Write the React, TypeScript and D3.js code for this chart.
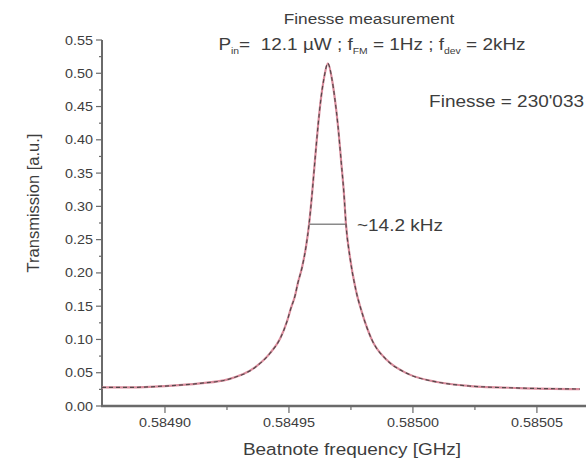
import React from "react";
import * as d3 from "d3";

const freqs = [
  0.5848746, 0.5848859, 0.5849000, 0.5849141, 0.5849254, 0.5849363, 0.5849423,
  0.5849464, 0.5849492, 0.5849508, 0.5849524, 0.5849536, 0.5849552, 0.5849569,
  0.5849581, 0.5849593, 0.5849605, 0.5849617, 0.5849629, 0.5849641, 0.5849657,
  0.5849673, 0.5849685, 0.5849698, 0.5849710, 0.5849722, 0.5849730, 0.5849746,
  0.5849770, 0.5849794, 0.5849835, 0.5849895, 0.5849976, 0.5850097, 0.5850230,
  0.5850431, 0.5850673,
];
const transmission = [
  0.028, 0.028, 0.030, 0.034, 0.040, 0.058, 0.079,
  0.101, 0.127, 0.147, 0.165, 0.185, 0.207, 0.240,
  0.273, 0.318, 0.370, 0.420, 0.462, 0.492, 0.515,
  0.492, 0.462, 0.420, 0.370, 0.318, 0.273, 0.2235,
  0.174, 0.141, 0.099, 0.069, 0.049, 0.036, 0.030,
  0.027, 0.0255,
];
const xTicks = [0.5849, 0.58495, 0.585, 0.58505];
const xTickLabels = ["0.58490", "0.58495", "0.58500", "0.58505"];
const xMinorTicks = [0.584925, 0.584975, 0.585025];
const yTicks = [0, 0.05, 0.1, 0.15, 0.2, 0.25, 0.3, 0.35, 0.4, 0.45, 0.5, 0.55];
const yMinorTicks = [0.025, 0.075, 0.125, 0.175, 0.225, 0.275, 0.325, 0.375, 0.425, 0.475, 0.525];
const fwhm = { left: 0.5849581, right: 0.5849726, level: 0.273 };

const FONT = "'Liberation Sans', Arial, sans-serif";
const SX = 1.15;
const textColor = "#3d3d3d";

function SText({
  x,
  y,
  anchor = "start",
  size,
  children,
}: {
  x: number;
  y: number;
  anchor?: string;
  size: number;
  children: React.ReactNode;
}) {
  return (
    <g transform={`translate(${x},${y}) scale(${SX},1)`}>
      <text x={0} y={0} textAnchor={anchor} fontSize={size} fill={textColor}>
        {children}
      </text>
    </g>
  );
}

export default function App() {
  const x = d3.scaleLinear().domain([0.5848746, 0.5850698]).range([102, 586]);
  const y = d3.scaleLinear().domain([0, 0.55]).range([406, 40]);
  const pts: [number, number][] = freqs.map((f, i) => [f, transmission[i]]);
  const line = d3
    .line<[number, number]>()
    .x((d) => x(d[0]))
    .y((d) => y(d[1]))
    .curve(d3.curveMonotoneX);
  const path = line(pts) || "";
  const axisColor = "#6a6a6a";
  return (
    <svg
      width={586}
      height={468}
      style={{ position: "absolute", left: 0, top: 0, background: "#fff" }}
      fontFamily={FONT}
    >
      <rect width={586} height={468} fill="#fff" />
      {/* title */}
      <SText x={369} y={24} anchor="middle" size={15}>
        Finesse measurement
      </SText>
      <SText x={372} y={50} anchor="middle" size={16.5}>
        P<tspan fontSize={9} dy={4}>in</tspan>
        <tspan dy={-4}>{"=\u00a0 12.1 µW ; f"}</tspan>
        <tspan fontSize={9} dy={4}>FM</tspan>
        <tspan dy={-4}> = 1Hz ; f</tspan>
        <tspan fontSize={9} dy={4}>dev</tspan>
        <tspan dy={-4}> = 2kHz</tspan>
      </SText>
      <SText x={584} y={107} anchor="end" size={16.5}>
        Finesse = 230'033
      </SText>
      <SText x={357} y={231} size={16.5}>
        ~14.2 kHz
      </SText>
      {/* axes */}
      <line x1={102} x2={102} y1={y(0.55)} y2={y(0) + 1} stroke={axisColor} strokeWidth={2} />
      <line x1={101} x2={586} y1={y(0)} y2={y(0)} stroke={axisColor} strokeWidth={2.5} />
      {yTicks.map((t) => (
        <g key={"y" + t}>
          <line x1={96} x2={102} y1={y(t)} y2={y(t)} stroke={axisColor} strokeWidth={1.2} />
          <SText x={93} y={y(t) + 4.5} anchor="end" size={12.5}>
            {t.toFixed(2)}
          </SText>
        </g>
      ))}
      {yMinorTicks.map((t) => (
        <line key={"ym" + t} x1={99} x2={102} y1={y(t)} y2={y(t)} stroke={axisColor} strokeWidth={1.2} />
      ))}
      {xTicks.map((t, i) => (
        <g key={"x" + t}>
          <line x1={x(t)} x2={x(t)} y1={y(0)} y2={y(0) + 7} stroke={axisColor} strokeWidth={1.2} />
          <SText x={x(t)} y={y(0) + 21} anchor="middle" size={12.5}>
            {xTickLabels[i]}
          </SText>
        </g>
      ))}
      {xMinorTicks.map((t) => (
        <line key={"xm" + t} x1={x(t)} x2={x(t)} y1={y(0)} y2={y(0) + 4} stroke={axisColor} strokeWidth={1.2} />
      ))}
      <SText x={352} y={455} anchor="middle" size={16.5}>
        Beatnote frequency [GHz]
      </SText>
      <text
        transform={`translate(39,203) rotate(-90)`}
        textAnchor="middle"
        fontSize={16.5}
        fill={textColor}
      >
        Transmission [a.u.]
      </text>
      {/* curves */}
      <path d={path} fill="none" stroke="#d98c9c" strokeWidth={2.2} />
      <path d={path} fill="none" stroke="#3c3c3c" strokeWidth={1.2} strokeDasharray="4 3" opacity={0.85} />
      {/* FWHM marker */}
      <line
        x1={x(fwhm.left)}
        x2={x(fwhm.right)}
        y1={y(fwhm.level)}
        y2={y(fwhm.level)}
        stroke="#8a8a8a"
        strokeWidth={1.5}
      />
    </svg>
  );
}
